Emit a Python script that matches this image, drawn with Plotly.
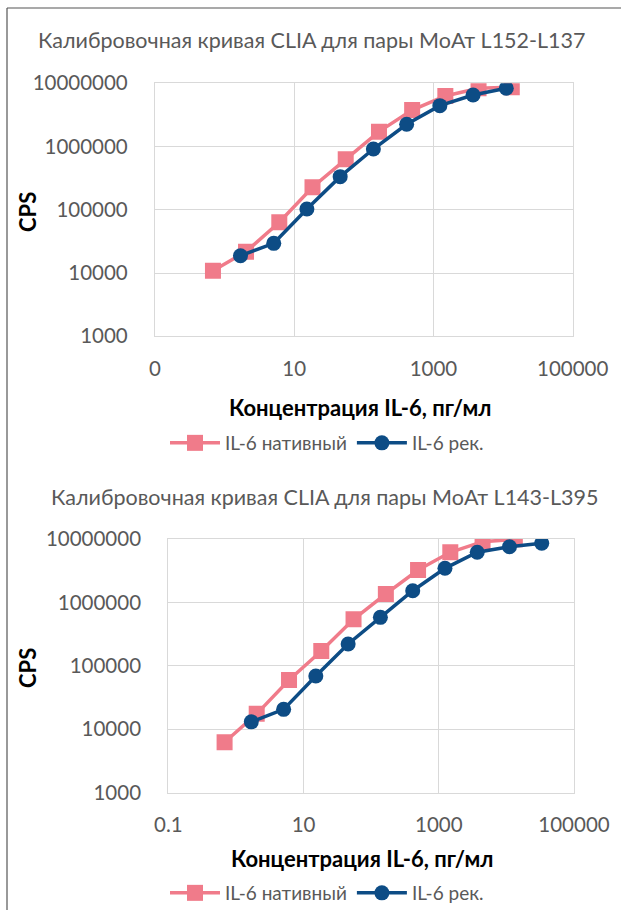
import plotly.graph_objects as go

# ---- data ----
conc_nat = [0.68, 2.03, 6.1, 18.3, 54.9, 165, 494, 1481, 4444, 13333]
conc_rek_top = [1.69, 5.08, 15.2, 45.7, 137, 412, 1235, 3704, 11111]
conc_rek_bot = [1.69, 5.08, 15.2, 45.7, 137, 412, 1235, 3704, 11111, 33333]

cps_nat_top = [10900, 21800, 63400, 227000, 629000, 1720000, 3780000, 6300000, 8340000, 8650000]
cps_rek_top = [18800, 29500, 103000, 334000, 914000, 2250000, 4430000, 6530000, 8340000]

cps_nat_bot = [6240, 17500, 59700, 171000, 541000, 1360000, 3240000, 6170000, 9070000, 9900000]
cps_rek_bot = [13100, 20600, 69000, 221000, 582000, 1530000, 3450000, 6170000, 7560000, 8560000]

x_tickvals = [0.1, 10, 1000, 100000]
x_ticktext_top = ["0", "10", "1000", "100000"]
x_ticktext_bot = ["0.1", "10", "1000", "100000"]
y_tickvals = [1000, 10000, 100000, 1000000, 10000000]
y_ticktext = ["1000", "10000", "100000", "1000000", "10000000"]

title_top = "Калибровочная кривая CLIA для пары МоАт L152-L137"
title_bot = "Калибровочная кривая CLIA для пары МоАт L143-L395"
x_title = "Концентрация IL-6, пг/мл"
y_title = "CPS"
name_nat = "IL-6 нативный"
name_rek = "IL-6 рек."

# ---- styles ----
W, H = 621, 910
PINK = "#F07B8A"
BLUE = "#0D4C85"
GRID = "#D9D9D9"
TXT = "#595959"
FONT = "Lato, 'Open Sans', sans-serif"

def px_x(p):
    return p / W

def px_y(p):
    return 1 - p / H

fig = go.Figure()

fig.add_trace(go.Scatter(x=conc_nat, y=cps_nat_top, name=name_nat, mode="lines+markers",
                         line=dict(color=PINK, width=3.5),
                         marker=dict(symbol="square", size=16, color=PINK),
                         xaxis="x", yaxis="y", legend="legend"))
fig.add_trace(go.Scatter(x=conc_rek_top, y=cps_rek_top, name=name_rek, mode="lines+markers",
                         line=dict(color=BLUE, width=3.5),
                         marker=dict(symbol="circle", size=15, color=BLUE),
                         xaxis="x", yaxis="y", legend="legend"))
fig.add_trace(go.Scatter(x=conc_nat, y=cps_nat_bot, name=name_nat, mode="lines+markers",
                         line=dict(color=PINK, width=3.5),
                         marker=dict(symbol="square", size=16, color=PINK),
                         xaxis="x2", yaxis="y2", legend="legend2"))
fig.add_trace(go.Scatter(x=conc_rek_bot, y=cps_rek_bot, name=name_rek, mode="lines+markers",
                         line=dict(color=BLUE, width=3.5),
                         marker=dict(symbol="circle", size=15, color=BLUE),
                         xaxis="x2", yaxis="y2", legend="legend2"))

def xaxis(domain, anchor, ticktext):
    return dict(type="log", range=[-1, 5], domain=domain, anchor=anchor,
                tickvals=x_tickvals, ticktext=ticktext,
                showgrid=True, gridcolor=GRID, gridwidth=1.3,
                showline=True, linecolor=GRID, linewidth=1.3, mirror=True,
                zeroline=False, ticks="", ticklabelstandoff=14, automargin=False,
                tickfont=dict(family=FONT, size=20.5, color=TXT))

def yaxis(domain, anchor):
    return dict(type="log", range=[3, 7], domain=domain, anchor=anchor,
                tickvals=y_tickvals, ticktext=y_ticktext,
                showgrid=True, gridcolor=GRID, gridwidth=1.3,
                showline=True, linecolor=GRID, linewidth=1.3, mirror=True,
                zeroline=False, ticks="", ticklabelstandoff=22, automargin=False,
                tickfont=dict(family=FONT, size=20.5, color=TXT))

legend_style = dict(orientation="h", xanchor="center", yanchor="middle", itemwidth=50,
                    font=dict(family=FONT, size=19, color=TXT), bgcolor="rgba(0,0,0,0)")

fig.update_layout(
    width=W, height=H,
    margin=dict(l=0, r=0, t=0, b=0, pad=0, autoexpand=False),
    paper_bgcolor="white", plot_bgcolor="white",
    xaxis=xaxis([px_x(155), px_x(572.7)], "y", x_ticktext_top),
    yaxis=yaxis([px_y(336.3), px_y(83.3)], "x"),
    xaxis2=xaxis([px_x(168.3), px_x(574)], "y2", x_ticktext_bot),
    yaxis2=yaxis([px_y(792.7), px_y(539)], "x2"),
    legend=dict(x=px_x(327), y=px_y(443), **legend_style),
    legend2=dict(x=px_x(327), y=px_y(893), **legend_style),
    showlegend=True,
)

annots = [
    (title_top, 311, 40, 21.5, TXT, False, 0),
    (title_bot, 324, 497, 21.5, TXT, False, 0),
    (x_title, 360, 408, 22, "black", True, 0),
    (x_title, 362, 858, 22, "black", True, 0),
    (y_title, 27, 212, 22, "black", True, -90),
    (y_title, 27, 668, 22, "black", True, -90),
]
for text, x, y, size, color, bold, ang in annots:
    fig.add_annotation(text=f"<b>{text}</b>" if bold else text,
                       x=px_x(x), y=px_y(y), xref="paper", yref="paper",
                       xanchor="center", yanchor="middle", showarrow=False, textangle=ang,
                       font=dict(family=FONT, size=size, color=color))

# chart frame (left and top edges visible)
fig.add_shape(type="line", xref="paper", yref="paper", x0=px_x(7), x1=px_x(7), y0=0, y1=px_y(8),
              line=dict(color="#555555", width=1.2))
fig.add_shape(type="line", xref="paper", yref="paper", x0=px_x(7), x1=1, y0=px_y(8), y1=px_y(8),
              line=dict(color="#555555", width=1.2))

fig.write_html("out.html", config={"displayModeBar": False},
               post_script="document.body.style.margin='0';document.body.style.overflow='hidden';")
